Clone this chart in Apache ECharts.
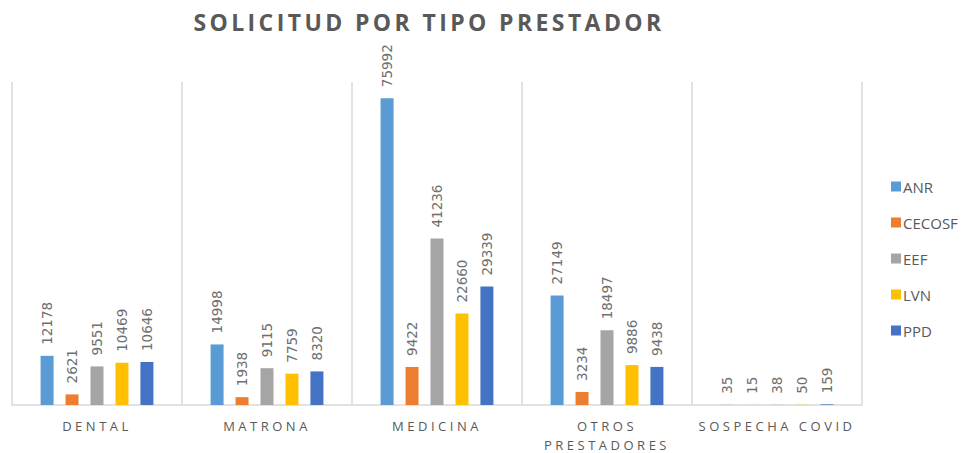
<!DOCTYPE html>
<html>
<head>
<meta charset="utf-8">
<script src="https://cdn.jsdelivr.net/npm/echarts@6/dist/echarts.min.js"></script>
<style>
  html, body { margin: 0; padding: 0; background: #fff; }
  #chart { width: 961px; height: 453px; }
</style>
</head>
<body>
<div id="chart"></div>
<script>
var categories = ['DENTAL', 'MATRONA', 'MEDICINA', 'OTROS\nPRESTADORES', 'SOSPECHA COVID'];
var seriesNames = ['ANR', 'CECOSF', 'EEF', 'LVN', 'PPD'];
var anr = [12178, 14998, 75992, 27149, 35];
var cecosf = [2621, 1938, 9422, 3234, 15];
var eef = [9551, 9115, 41236, 18497, 38];
var lvn = [10469, 7759, 22660, 9886, 50];
var ppd = [10646, 8320, 29339, 9438, 159];
var colors = ['#5B9BD5', '#ED7D31', '#A5A5A5', '#FFC000', '#4472C4'];

var values = [anr, cecosf, eef, lvn, ppd];
var series = [];
for (var i = 0; i < seriesNames.length; i++) {
	series.push({
		name: seriesNames[i],
		type: 'bar',
		data: values[i],
		barWidth: 13,
		barGap: '92%',
		itemStyle: { color: colors[i] },
		label: {
			show: true,
			position: 'top',
			rotate: 90,
			align: 'left',
			verticalAlign: 'middle',
			distance: 11,
			color: '#6f6f6f',
			fontSize: 13.5,
			fontFamily: 'DejaVu Sans'
		}
	});
}

var option = {
	animation: false,
	title: {
		text: 'SOLICITUD POR TIPO PRESTADOR',
		left: 424,
		textAlign: 'center',
		top: 5,
		textStyle: {
			fontFamily: 'Open Sans',
			fontWeight: 'bold',
			fontSize: 23,
			color: '#595959'
		}
	},
	legend: {
		orient: 'vertical',
		left: 886,
		top: 174,
		itemWidth: 10,
		itemHeight: 10,
		itemGap: 21,
		icon: 'rect',
		textStyle: { fontFamily: 'Open Sans', fontSize: 15, color: '#595959', padding: [0, 0, 0, -3] },
		data: seriesNames
	},
	grid: { left: 12, right: 99, top: 82, bottom: 48, outerBoundsMode: 'none' },
	xAxis: {
		type: 'category',
		data: categories,
		axisLine: { lineStyle: { color: '#D9D9D9', width: 1.5 } },
		axisTick: { show: false },
		splitLine: { show: true, lineStyle: { color: '#D9D9D9', width: 1.5 } },
		axisLabel: {
			color: '#595959',
			fontSize: 13,
			fontFamily: 'Open Sans',
			margin: 11,
			lineHeight: 19,
			interval: 0
		}
	},
	yAxis: {
		type: 'value',
		min: 0,
		max: 80000,
		show: false,
		splitLine: { show: false }
	},
	series: series
};

var myChart = echarts.init(document.getElementById('chart'), null, { renderer: 'svg' });
myChart.setOption(option);

// spread letters the way the original does
function spread () {
	var texts = document.querySelectorAll('#chart text');
	for (var i = 0; i < texts.length; i++) {
		var t = texts[i].textContent;
		if (t.indexOf('SOLICITUD') === 0) {
			texts[i].style.letterSpacing = '3.4px';
		} else if (/^[A-Z ]+$/.test(t) && seriesNames.indexOf(t) < 0) {
			texts[i].style.letterSpacing = '3.5px';
		}
	}
}
spread();
</script>
</body>
</html>
